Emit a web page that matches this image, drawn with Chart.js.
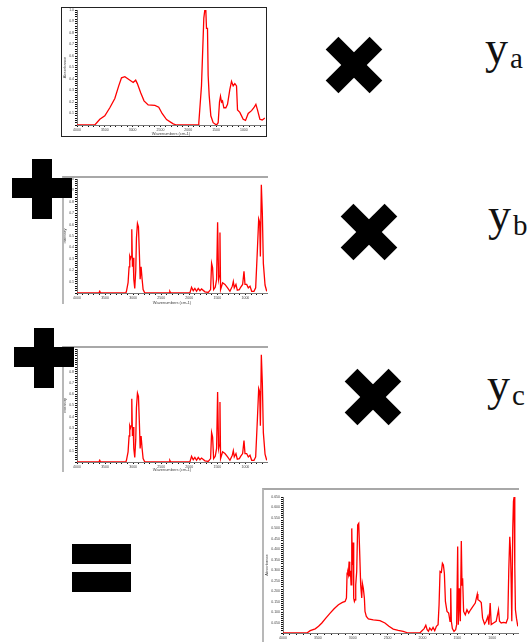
<!DOCTYPE html>
<html>
<head>
<meta charset="utf-8">
<script src="https://cdn.jsdelivr.net/npm/chart.js@4/dist/chart.umd.min.js"></script>
<style>
  body { margin: 0; background: #fff; }
  #page { position: relative; width: 527px; height: 642px; overflow: hidden; }
  canvas { position: absolute; }
  .frame { position: absolute; box-sizing: border-box; }
  .sym { position: absolute; width: 0; height: 0; }
  .sym i { position: absolute; background: #000; }
  .times i { left: -31px; top: -9px; width: 62px; height: 18px; }
  .times i:first-child { transform: rotate(45deg); }
  .times i:last-child { transform: rotate(-45deg); }
  .plus i:first-child { left: -30px; top: -10px; width: 60px; height: 20px; }
  .plus i:last-child { left: -10px; top: -29px; width: 20px; height: 60px; }
  .eq { position: absolute; background: #000; width: 59px; height: 20px; }
  .lbl { position: absolute; font-family: 'Liberation Serif', serif; font-size: 46px; line-height: 46px; color: #111; }
  .lbl span { font-size: 29px; position: relative; top: 5px; margin-left: 2px; }
</style>
</head>
<body>
<div id="page">
  <canvas id="specA" width="205" height="132" style="left:62px;top:4px"></canvas>
  <canvas id="specB" width="206" height="131" style="left:62px;top:174px"></canvas>
  <canvas id="specC" width="206" height="128" style="left:62px;top:344px"></canvas>
  <canvas id="specD" width="256" height="158" style="left:264px;top:484px"></canvas>

  <!-- window frames around the spectra -->
  <div class="frame" style="left:61px;top:7px;width:206px;height:130px;border:1px solid #222"></div>
  <div class="frame" style="left:62px;top:176px;width:206px;height:128px;border-top:2px solid #a8a8a8;border-left:2px solid #b8b8b8"></div>
  <div class="frame" style="left:62px;top:346px;width:206px;height:126px;border-top:2px solid #a8a8a8;border-left:2px solid #b8b8b8"></div>
  <div class="frame" style="left:262px;top:488px;width:257px;height:154px;border-top:2px solid #a8a8a8;border-left:2px solid #b8b8b8"></div>

  <div class="sym times" style="left:354px;top:65px"><i></i><i></i></div>
  <div class="sym times" style="left:369px;top:232px"><i></i><i></i></div>
  <div class="sym times" style="left:373px;top:397px"><i></i><i></i></div>

  <div class="sym plus" style="left:42px;top:188px"><i></i><i></i></div>
  <div class="sym plus" style="left:44px;top:357px"><i></i><i></i></div>

  <div class="eq" style="left:72px;top:544px"></div>
  <div class="eq" style="left:72px;top:572px"></div>

  <div class="lbl" style="left:485px;top:25px">y<span>a</span></div>
  <div class="lbl" style="left:488px;top:192px">y<span>b</span></div>
  <div class="lbl" style="left:487px;top:362px">y<span>c</span></div>
</div>

<script>
// wavenumber axis labels (cm-1), shared by all four spectra
const xLabels = [4000, 3500, 3000, 2500, 2000, 1500, 1000];

// component a
const waveA = [4000, 3680, 3590, 3500, 3410, 3320, 3250, 3200, 3140, 3080,
  2990, 2945, 2915, 2855, 2795, 2720, 2600, 2530, 2470, 2390,
  2270, 2210, 1820, 1810, 1762, 1720, 1702, 1684, 1672, 1654,
  1642, 1624, 1594, 1552, 1492, 1462, 1438, 1420, 1402, 1384,
  1360, 1324, 1294, 1252, 1222, 1192, 1162, 1132, 1114, 1072,
  1012, 970, 922, 862, 820, 784, 754, 712, 670, 622];
const absA = [0, 0, 0.05, 0.08, 0.15, 0.23, 0.34, 0.41, 0.42, 0.40,
  0.37, 0.39, 0.36, 0.28, 0.21, 0.175, 0.17, 0.155, 0.10, 0.047,
  0.01, 0, 0, 0.02, 0.34, 0.93, 1.0, 1.0, 0.84, 0.84,
  0.43, 0.26, 0.08, 0.02, 0, 0.02, 0.20, 0.25, 0.20, 0.21,
  0.15, 0.15, 0.18, 0.31, 0.38, 0.34, 0.36, 0.34, 0.13, 0.11,
  0.05, 0.04, 0.10, 0.125, 0.15, 0.18, 0.13, 0.05, 0.044, 0.06];

// component b (component c has the same spectrum)
const waveB = [4000, 3610, 3595, 3580, 3130, 3119, 3090, 3072, 3060, 3048,
  3036, 3024, 3012, 3000, 2988, 2971, 2953, 2941, 2923, 2905,
  2887, 2875, 2858, 2840, 2822, 2792, 2360, 2346, 2330, 1989,
  1959, 1929, 1900, 1870, 1840, 1810, 1781, 1721, 1662, 1620,
  1602, 1584, 1566, 1537, 1513, 1495, 1477, 1465, 1453, 1442,
  1406, 1364, 1317, 1275, 1233, 1215, 1198, 1168, 1144, 1108,
  1085, 1049, 1025, 1007, 977, 948, 918, 888, 847, 817,
  787, 763, 745, 733, 716, 698, 680, 650, 620];
const absB = [0, 0, 0.015, 0, 0, 0.015, 0.09, 0.23, 0.32, 0.30,
  0.32, 0.56, 0.23, 0.31, 0.12, 0.04, 0.20, 0.48, 0.61, 0.58,
  0.32, 0.12, 0.23, 0.12, 0.03, 0, 0, 0.015, 0, 0,
  0.05, 0.02, 0.04, 0.015, 0.04, 0.02, 0.035, 0.01, 0.005, 0.03,
  0.26, 0.22, 0.03, 0.05, 0.12, 0.62, 0.12, 0.15, 0.53, 0.03,
  0.09, 0.075, 0.045, 0.015, 0.06, 0.10, 0.045, 0.075, 0.025, 0.03,
  0.05, 0.075, 0.19, 0.075, 0.075, 0.045, 0.06, 0.015, 0.015, 0.045,
  0.37, 0.65, 0.62, 0.32, 0.95, 0.70, 0.26, 0.07, 0.015];

// mixture spectrum (absorbance)
const waveD = [4000, 3657, 3610, 3538, 3490, 3443, 3386, 3324, 3267, 3205,
  3148, 3110, 3090, 3081, 3071, 3062, 3052, 3043, 3033, 3024,
  3014, 3005, 2995, 2986, 2976, 2967, 2957, 2943, 2929, 2914,
  2900, 2886, 2871, 2862, 2848, 2833, 2824, 2805, 2776, 2705,
  2610, 2538, 2481, 2419, 2348, 2276, 2205, 2038, 2014, 1976,
  1952, 1933, 1914, 1895, 1871, 1848, 1824, 1800, 1776, 1762,
  1748, 1729, 1714, 1700, 1686, 1671, 1648, 1624, 1605, 1595,
  1586, 1571, 1548, 1524, 1510, 1495, 1486, 1471, 1457, 1443,
  1433, 1424, 1410, 1386, 1362, 1338, 1310, 1276, 1243, 1214,
  1205, 1181, 1157, 1138, 1110, 1086, 1062, 1048, 1029, 1014,
  981, 943, 910, 895, 871, 838, 800, 776, 762, 748,
  738, 729, 719, 705, 695, 686, 676, 667, 652, 633];
const absD = [0, 0, 0.011, 0.02, 0.032, 0.048, 0.071, 0.095, 0.116, 0.135,
  0.146, 0.151, 0.167, 0.286, 0.29, 0.278, 0.341, 0.27, 0.297, 0.23,
  0.50, 0.325, 0.433, 0.167, 0.151, 0.159, 0.23, 0.294, 0.516, 0.524,
  0.381, 0.23, 0.167, 0.238, 0.214, 0.167, 0.103, 0.079, 0.067, 0.063,
  0.059, 0.048, 0.032, 0.019, 0.013, 0.008, 0, 0, 0.008, 0.021,
  0.037, 0.016, 0.008, 0.024, 0.013, 0.027, 0.011, 0.032, 0.04, 0.135,
  0.294, 0.29, 0.333, 0.325, 0.286, 0.151, 0.103, 0.095, 0.056, 0.214,
  0.056, 0.021, 0.008, 0.016, 0.04, 0.413, 0.04, 0.214, 0.056, 0.44,
  0.229, 0.262, 0.103, 0.087, 0.111, 0.095, 0.111, 0.127, 0.143, 0.186,
  0.159, 0.154, 0.146, 0.071, 0.043, 0.056, 0.079, 0.04, 0.143, 0.04,
  0.048, 0.056, 0.111, 0.056, 0.048, 0.051, 0.048, 0.071, 0.302, 0.46,
  0.397, 0.262, 0.056, 0.50, 0.63, 0.65, 0.317, 0.111, 0.071, 0.032];

const tickFont = { family: 'Liberation Sans', size: 3.5 };

function xTickValues(xMin) {
  var vals = [];
  for (var w = 4000; w > xMin; w -= 100) vals.push(w);
  return vals;
}

function yTickValues(yMax, minor) {
  var vals = [];
  var n = Math.round(yMax / minor);
  for (var i = 0; i <= n; i++) vals.push(+(i * minor).toFixed(4));
  return vals;
}

function drawSpectrum(id, waves, values, cfg) {
  var points = waves.map(function (w, i) { return { x: w, y: values[i] }; });

  return new Chart(document.getElementById(id), {
    type: 'line',
    data: {
      datasets: [{
        data: points,
        borderColor: '#ff0000',
        borderWidth: 1.3,
        pointRadius: 0,
        tension: 0,
        fill: false
      }]
    },
    options: {
      responsive: false,
      animation: false,
      events: [],
      layout: { padding: { top: cfg.padTop, right: cfg.padRight, left: 0, bottom: 0 } },
      plugins: { legend: { display: false }, tooltip: { enabled: false } },
      scales: {
        x: {
          type: 'linear',
          reverse: true,
          min: cfg.xMin,
          max: 4000,
          afterBuildTicks: function (axis) {
            axis.ticks = xTickValues(cfg.xMin).map(function (v) { return { value: v }; });
          },
          afterFit: function (axis) { axis.height = cfg.xHeight; },
          grid: { drawOnChartArea: false, tickLength: 2, color: '#111', lineWidth: 1 },
          border: { display: true, color: '#777', width: 1 },
          ticks: {
            autoSkip: false, maxRotation: 0, padding: 1, color: '#444', font: tickFont,
            callback: function (v) { return xLabels.indexOf(v) >= 0 ? String(v) : ''; }
          },
          title: {
            display: cfg.xTitle, text: 'Wavenumbers (cm-1)', padding: 0, color: '#444',
            font: { family: 'Liberation Sans', size: 4 }
          }
        },
        y: {
          min: 0,
          max: cfg.yMax,
          afterBuildTicks: function (axis) {
            axis.ticks = yTickValues(cfg.yMax, cfg.yMinor).map(function (v) { return { value: v }; });
          },
          afterFit: function (axis) { axis.width = cfg.yWidth; },
          grid: { drawOnChartArea: false, tickLength: 2, color: '#111', lineWidth: 1 },
          border: { display: true, color: '#777', width: 1 },
          ticks: {
            autoSkip: false, padding: 1, color: '#444', font: tickFont,
            callback: function (v, i) {
              return (i > 0 && i % cfg.yEvery === 0) ? v.toFixed(cfg.yDigits) : '';
            }
          },
          title: {
            display: true, text: cfg.yTitle, padding: 0, color: '#444',
            font: { family: 'Liberation Sans', size: 4 }
          }
        }
      }
    }
  });
}

drawSpectrum('specA', waveA, absA, {
  xMin: 620, yMax: 1.0, yMinor: 0.02, yEvery: 5, yDigits: 1, yTitle: 'Absorbance',
  padTop: 6, padRight: 2, xHeight: 11, yWidth: 15, xTitle: true
});
drawSpectrum('specB', waveB, absB, {
  xMin: 615, yMax: 1.0, yMinor: 0.02, yEvery: 5, yDigits: 1, yTitle: 'Intensity',
  padTop: 5, padRight: 1, xHeight: 12, yWidth: 15, xTitle: true
});
drawSpectrum('specC', waveB, absB, {
  xMin: 615, yMax: 1.0, yMinor: 0.02, yEvery: 5, yDigits: 1, yTitle: 'Intensity',
  padTop: 5, padRight: 1, xHeight: 10, yWidth: 15, xTitle: true
});
drawSpectrum('specD', waveD, absD, {
  xMin: 630, yMax: 0.65, yMinor: 0.01, yEvery: 5, yDigits: 3, yTitle: 'Absorbance',
  padTop: 13, padRight: 2, xHeight: 9, yWidth: 19, xTitle: false
});
</script>
</body>
</html>
